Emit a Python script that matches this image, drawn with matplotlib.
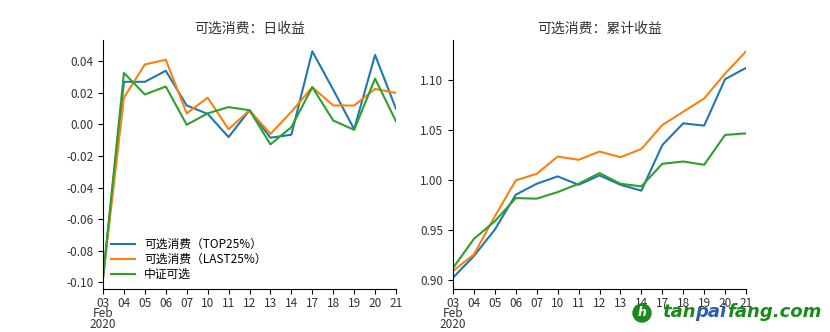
import numpy as np
import matplotlib
matplotlib.use("Agg")
import matplotlib.pyplot as plt
from matplotlib.patches import Circle

plt.rcParams['font.family'] = ['Noto Sans CJK SC', 'DejaVu Sans']
plt.rcParams['axes.unicode_minus'] = False

# trading days, Feb 2020
days = ['03\nFeb\n2020', '04', '05', '06', '07', '10', '11', '12', '13',
        '14', '17', '18', '19', '20', '21']

# daily returns
ret_top = [-0.097, 0.027, 0.027, 0.034, 0.012, 0.0067, -0.008, 0.009, -0.0084,
           -0.0065, 0.0463, 0.022, -0.003, 0.044, 0.0099]
ret_last = [-0.097, 0.017, 0.038, 0.041, 0.007, 0.017, -0.003, 0.009, -0.006,
            0.008, 0.0236, 0.012, 0.012, 0.0225, 0.020]
ret_csi = [-0.097, 0.0326, 0.019, 0.024, -0.0002, 0.007, 0.011, 0.009, -0.0126,
           -0.0017, 0.0236, 0.0025, -0.0034, 0.029, 0.002]

# cumulative returns
cum_top = [0.9023, 0.924, 0.9505, 0.9854, 0.9963, 1.0037, 0.9953, 1.0047, 0.9953,
           0.9894, 1.035, 1.0568, 1.0545, 1.101, 1.1123]
cum_last = [0.909, 0.9256, 0.9638, 0.9997, 1.0063, 1.0236, 1.0203, 1.0286, 1.0229,
            1.0312, 1.0551, 1.0684, 1.0817, 1.1066, 1.1289]
cum_csi = [0.912, 0.9412, 0.9588, 0.982, 0.9814, 0.988, 0.9963, 1.007, 0.9963,
           0.9937, 1.0163, 1.0186, 1.0153, 1.0452, 1.0468]

names = ['可选消费（TOP25%）', '可选消费（LAST25%）', '中证可选']
colors = ['#1f77b4', '#ff7f0e', '#2ca02c']

fig = plt.figure(figsize=(8.3, 3.32), dpi=100)
ax1 = fig.add_axes([103/830, 1 - 289/332, 293/830, 249/332])
ax2 = fig.add_axes([453/830, 1 - 289/332, 293/830, 249/332])

x = np.arange(len(days))


def draw(ax, series, title):
    for s, name, c in zip(series, names, colors):
        ax.plot(x, s, color=c, lw=1.5, label=name)
    ax.set_xlim(x[0], x[-1])
    ax.set_xticks(x)
    ax.set_xticklabels(days, fontsize=8.5, color='#333333')
    ax.get_xticklabels()[0].set_linespacing(0.78)
    ax.tick_params(axis='x', pad=2)
    ax.tick_params(axis='y', labelsize=8.5, labelcolor='#333333')
    ax.spines['top'].set_visible(False)
    ax.spines['right'].set_visible(False)
    ax.set_title(title, fontsize=10, color='#333333', pad=5)


draw(ax1, [ret_top, ret_last, ret_csi], '可选消费：日收益')
ax1.set_yticks(np.arange(-0.10, 0.041, 0.02))
ax1.yaxis.set_major_formatter(plt.FormatStrFormatter('%.2f'))
ax1.legend(loc='lower left', frameon=False, fontsize=8.5, handlelength=2.0,
           borderaxespad=0.3, labelspacing=0.15)

draw(ax2, [cum_top, cum_last, cum_csi], '可选消费：累计收益')
ax2.set_yticks(np.arange(0.90, 1.101, 0.05))
ax2.yaxis.set_major_formatter(plt.FormatStrFormatter('%.2f'))

# site mark, in inches from the lower-left corner
green = '#1a8a1a'
fig.patches.append(Circle((6.42, 0.19), 0.09, transform=fig.dpi_scale_trans,
                          color=green, zorder=5))
fig.text(6.42, 0.19, 'h', transform=fig.dpi_scale_trans, color='white',
         fontsize=9, fontweight='bold', fontstyle='italic', ha='center',
         va='center', family='DejaVu Sans', zorder=6)
mark = dict(fontsize=13, fontweight='bold', fontstyle='italic', family='DejaVu Sans',
            va='bottom', ha='left')
t1 = fig.text(6.62, 0.11, 'tan', transform=fig.dpi_scale_trans, color=green, **mark)
t2 = fig.add_artist(plt.Annotation('pai', xy=(1, 0), xycoords=t1, color='#2a5db0',
                                   **mark))
fig.add_artist(plt.Annotation('fang.com', xy=(1, 0), xycoords=t2, color=green,
                              **mark))

fig.savefig('out.png', dpi=100)
